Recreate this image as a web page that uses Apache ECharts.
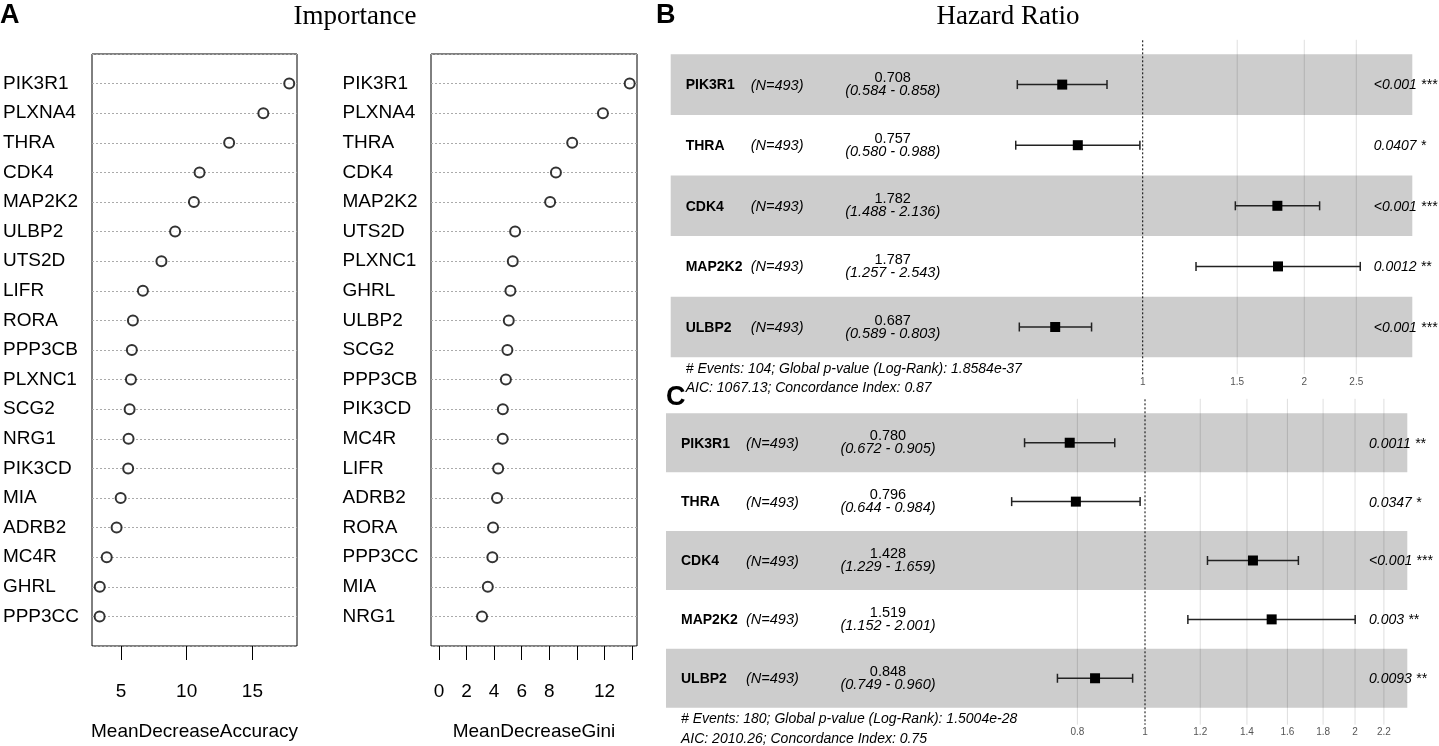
<!DOCTYPE html>
<html>
<head>
<meta charset="utf-8">
<script src="https://cdn.jsdelivr.net/npm/echarts@6/dist/echarts.min.js"></script>
<style>
html, body { margin: 0; padding: 0; background: #fff; }
#main { width: 1439px; height: 746px; }
</style>
</head>
<body>
<div id="main"></div>
<script>
// A: random forest variable importance
var accGenes = ['PIK3R1', 'PLXNA4', 'THRA', 'CDK4', 'MAP2K2', 'ULBP2', 'UTS2D', 'LIFR', 'RORA', 'PPP3CB',
    'PLXNC1', 'SCG2', 'NRG1', 'PIK3CD', 'MIA', 'ADRB2', 'MC4R', 'GHRL', 'PPP3CC'];
var accValues = [17.8, 15.83, 13.23, 10.98, 10.55, 9.12, 8.08, 6.67, 5.91, 5.83,
    5.76, 5.66, 5.58, 5.55, 4.98, 4.67, 3.92, 3.39, 3.38];
var giniGenes = ['PIK3R1', 'PLXNA4', 'THRA', 'CDK4', 'MAP2K2', 'UTS2D', 'PLXNC1', 'GHRL', 'ULBP2', 'SCG2',
    'PPP3CB', 'PIK3CD', 'MC4R', 'LIFR', 'ADRB2', 'RORA', 'PPP3CC', 'MIA', 'NRG1'];
var giniValues = [13.83, 11.89, 9.66, 8.48, 8.06, 5.52, 5.35, 5.18, 5.06, 4.96,
    4.85, 4.63, 4.62, 4.29, 4.21, 3.92, 3.87, 3.54, 3.12];
var accTicks = [5, 10, 15];
var giniTicks = [0, 2, 4, 6, 8, 10, 12, 14];
var giniTickLabels = [0, 2, 4, 6, 8, 12];

// B / C: multivariate cox forest plots
var coxGenes = ['PIK3R1', 'THRA', 'CDK4', 'MAP2K2', 'ULBP2'];
var nPatients = 493;
var hrB = [0.708, 0.757, 1.782, 1.787, 0.687];
var loB = [0.584, 0.580, 1.488, 1.257, 0.589];
var hiB = [0.858, 0.988, 2.136, 2.543, 0.803];
var pB = ['<0.001', '0.0407', '<0.001', '0.0012', '<0.001'];
var starsB = ['***', '*', '***', '**', '***'];
var ticksB = [1, 1.5, 2, 2.5];
var footB = ['# Events: 104; Global p-value (Log-Rank): 1.8584e-37', 'AIC: 1067.13; Concordance Index: 0.87'];

var hrC = [0.780, 0.796, 1.428, 1.519, 0.848];
var loC = [0.672, 0.644, 1.229, 1.152, 0.749];
var hiC = [0.905, 0.984, 1.659, 2.001, 0.960];
var pC = ['0.0011', '0.0347', '<0.001', '0.003', '0.0093'];
var starsC = ['**', '*', '***', '**', '**'];
var ticksC = [0.8, 1, 1.2, 1.4, 1.6, 1.8, 2, 2.2];
var footC = ['# Events: 180; Global p-value (Log-Rank): 1.5004e-28', 'AIC: 2010.26; Concordance Index: 0.75'];

var rFont = '"Liberation Sans", Arial, sans-serif';
var gFont = '"Liberation Sans", Arial, sans-serif';
var rSize = 19;

var chart = echarts.init(document.getElementById('main'), null, { renderer: 'canvas' });

function dotAxisY(idx, genes, margin) {
    return {
        type: 'value', gridIndex: idx, min: 0, max: genes.length + 1, interval: 1, inverse: true,
        axisLine: { show: false }, axisTick: { show: false },
        axisLabel: {
            align: 'left', margin: margin, color: '#000', fontSize: rSize, fontFamily: rFont,
            formatter: function (v) { return genes[v - 1] || ''; }
        },
        splitLine: { show: true, lineStyle: { color: '#aaa', type: [2, 2], width: 1 } }
    };
}

function dotAxisX(idx, min, max, ticks, labels, name) {
    return {
        type: 'value', gridIndex: idx, min: min, max: max, position: 'bottom',
        name: name, nameLocation: 'middle', nameGap: 76,
        nameTextStyle: { color: '#000', fontSize: rSize, fontFamily: rFont },
        axisLine: { show: false, onZero: false },
        axisTick: { show: true, length: 14, customValues: ticks, lineStyle: { color: '#000', width: 1 } },
        axisLabel: { customValues: labels, margin: 36, color: '#000', fontSize: rSize, fontFamily: rFont },
        splitLine: { show: false }
    };
}

function dotSeries(idx, values) {
    return {
        type: 'scatter', xAxisIndex: idx, yAxisIndex: idx,
        symbol: 'emptyCircle', symbolSize: 10,
        itemStyle: { color: '#000', borderColor: '#000', borderWidth: 1.2 },
        data: values.map(function (v, i) { return [v, i + 1]; })
    };
}

// vertical grid lines + tick labels of a forest panel
function tickSeries(idx, ticks) {
    return {
        type: 'custom', xAxisIndex: idx, yAxisIndex: idx, clip: false, silent: true,
        data: ticks.map(function (t) { return [Math.log(t), 0]; }),
        renderItem: function (params, api) {
            var cs = params.coordSys;
            var x = api.coord([api.value(0), 0])[0];
            var t = ticks[params.dataIndex];
            var kids = [{
                type: 'text', x: x, y: cs.y + cs.height + 24.5,
                style: { text: String(t), fill: '#555', fontSize: 10, fontFamily: gFont, align: 'center', verticalAlign: 'middle' }
            }];
            if (t !== 1) {
                kids.push({
                    type: 'line', z2: 5,
                    shape: { x1: x, y1: cs.y - 14.5, x2: x, y2: cs.y + cs.height + 17 },
                    style: { stroke: 'rgba(0,0,0,0.13)', lineWidth: 1 }
                });
            } else {
                kids.push({
                    type: 'line', z2: 6,
                    shape: { x1: x, y1: cs.y - 14, x2: x, y2: cs.y + cs.height + 17 },
                    style: { stroke: '#000', lineWidth: 1, lineDash: [2, 2] }
                });
            }
            return { type: 'group', children: kids };
        }
    };
}

// row bands, texts, CI bars and HR squares
function rowSeries(idx, hr, lo, hi, pv, stars) {
    return {
        type: 'custom', xAxisIndex: idx, yAxisIndex: idx, clip: false, silent: true,
        data: hr.map(function (h, i) { return [Math.log(h), i, Math.log(lo[i]), Math.log(hi[i])]; }),
        encode: { x: [0, 2, 3], y: 1 },
        renderItem: function (params, api) {
            var cs = params.coordSys;
            var i = params.dataIndex;
            var c = api.coord([api.value(0), i]);
            var y = c[1];
            var h = api.size([0, 1])[1];
            var xl = api.coord([api.value(2), i])[0];
            var xh = api.coord([api.value(3), i])[0];
            var kids = [];
            if (i % 2 === 0) {
                kids.push({ type: 'rect', z2: 1, shape: { x: cs.x, y: y - h / 2, width: cs.width, height: h }, style: { fill: '#cdcdcd' } });
            }
            kids.push({ type: 'text', z2: 10, x: cs.x + 15, y: y + 1,
                style: { text: coxGenes[i], fill: '#000', fontSize: 14, fontWeight: 'bold', fontFamily: gFont, align: 'left', verticalAlign: 'middle' } });
            kids.push({ type: 'text', z2: 10, x: cs.x + 80, y: y + 1,
                style: { text: '(N=' + nPatients + ')', fill: '#000', fontSize: 14.5, fontStyle: 'italic', fontFamily: gFont, align: 'left', verticalAlign: 'middle' } });
            kids.push({ type: 'text', z2: 10, x: cs.x + 222, y: y - 6.5,
                style: { text: hr[i].toFixed(3), fill: '#000', fontSize: 14.5, fontFamily: gFont, align: 'center', verticalAlign: 'middle' } });
            kids.push({ type: 'text', z2: 10, x: cs.x + 222, y: y + 6.5,
                style: { text: '(' + lo[i].toFixed(3) + ' - ' + hi[i].toFixed(3) + ')', fill: '#000', fontSize: 14.5, fontStyle: 'italic', fontFamily: gFont, align: 'center', verticalAlign: 'middle' } });
            kids.push({ type: 'text', z2: 10, x: cs.x + 703, y: y + 1,
                style: { text: pv[i] + ' ' + stars[i], fill: '#000', fontSize: 14, fontStyle: 'italic', fontFamily: gFont, align: 'left', verticalAlign: 'middle' } });
            kids.push({ type: 'line', z2: 8, shape: { x1: xl, y1: y, x2: xh, y2: y }, style: { stroke: '#222', lineWidth: 1.5 } });
            kids.push({ type: 'line', z2: 8, shape: { x1: xl, y1: y - 4.5, x2: xl, y2: y + 4.5 }, style: { stroke: '#222', lineWidth: 1.5 } });
            kids.push({ type: 'line', z2: 8, shape: { x1: xh, y1: y - 4.5, x2: xh, y2: y + 4.5 }, style: { stroke: '#222', lineWidth: 1.5 } });
            kids.push({ type: 'rect', z2: 9, shape: { x: c[0] - 5, y: y - 5, width: 10, height: 10 }, style: { fill: '#000' } });
            return { type: 'group', children: kids };
        }
    };
}

function txt(x, y, text, font, align) {
    return { type: 'text', x: x, y: y, style: { text: text, font: font, fill: '#000', align: align || 'left', verticalAlign: 'middle' } };
}

// plot areas (px)
var gB = { left: 670.7, top: 54.3, width: 741.6, height: 303 };
var gC = { left: 666, top: 413.3, width: 741.3, height: 294.4 };

chart.setOption({
    animation: false,
    backgroundColor: '#fff',
    grid: [
        { left: 91, top: 54, width: 206, height: 600, show: true, borderColor: '#000', borderWidth: 1, backgroundColor: 'transparent' },
        { left: 431, top: 54, width: 206, height: 600, show: true, borderColor: '#000', borderWidth: 1, backgroundColor: 'transparent' },
        { left: gB.left, top: gB.top, width: gB.width, height: gB.height },
        { left: gC.left, top: gC.top, width: gC.width, height: gC.height }
    ],
    xAxis: [
        dotAxisX(0, 2.8, 18.39, accTicks, accTicks, 'MeanDecreaseAccuracy'),
        dotAxisX(1, -0.58, 14.36, giniTicks, giniTickLabels, 'MeanDecreaseGini'),
        { type: 'value', gridIndex: 2, min: -2.0249, max: 1.1566, show: false },
        { type: 'value', gridIndex: 3, min: -1.5809, max: 0.8657, show: false }
    ],
    yAxis: [
        dotAxisY(0, accGenes, 89),
        dotAxisY(1, giniGenes, 88.5),
        { type: 'category', gridIndex: 2, data: coxGenes, inverse: true, show: false },
        { type: 'category', gridIndex: 3, data: coxGenes, inverse: true, show: false }
    ],
    series: [
        dotSeries(0, accValues),
        dotSeries(1, giniValues),
        rowSeries(2, hrB, loB, hiB, pB, starsB),
        tickSeries(2, ticksB),
        rowSeries(3, hrC, loC, hiC, pC, starsC),
        tickSeries(3, ticksC)
    ],
    graphic: [
        txt(0, 16, 'A', 'bold 27px ' + gFont),
        txt(355, 17, 'Importance', '27px "Liberation Serif", "Times New Roman", serif', 'center'),
        txt(656, 16, 'B', 'bold 27px ' + gFont),
        txt(1008, 17, 'Hazard Ratio', '27px "Liberation Serif", "Times New Roman", serif', 'center'),
        txt(666, 398, 'C', 'bold 27px ' + gFont),
        txt(gB.left + 15, 369, footB[0], 'italic 14px ' + gFont),
        txt(gB.left + 15, 388.3, footB[1], 'italic 14px ' + gFont),
        txt(gC.left + 15, 719.3, footC[0], 'italic 14px ' + gFont),
        txt(gC.left + 15, 738.7, footC[1], 'italic 14px ' + gFont)
    ]
});
</script>
</body>
</html>
